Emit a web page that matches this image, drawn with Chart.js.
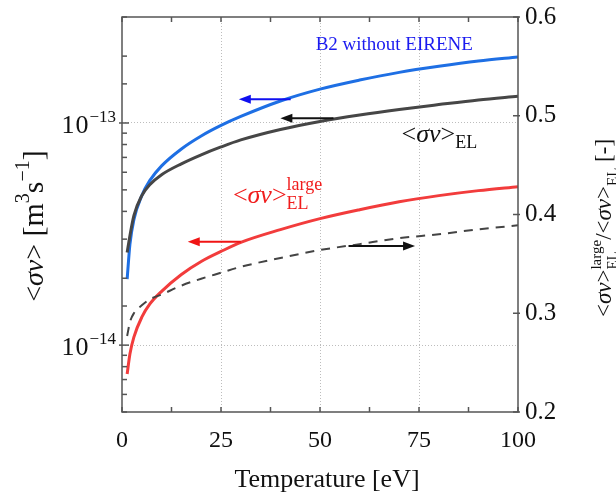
<!DOCTYPE html>
<html>
<head>
<meta charset="utf-8">
<script src="https://cdn.jsdelivr.net/npm/chart.js@4.4.0/dist/chart.umd.min.js"></script>
<style>
  html, body { margin: 0; padding: 0; background: #fff; }
  #wrap { width: 616px; height: 496px; }
</style>
</head>
<body>
<div id="wrap"><canvas id="chart" width="616" height="496"></canvas></div>
<script>
// Data
const temperature = [1.3, 2, 3, 5, 7, 10, 15, 20, 25, 30, 40, 50, 60, 70, 80, 90, 100];
const rateB2 = [1.98e-14, 2.84e-14, 3.67e-14, 4.71e-14, 5.5e-14, 6.41e-14, 7.64e-14, 8.74e-14, 9.75e-14, 1.07e-13, 1.256e-13, 1.42e-13, 1.56e-13, 1.69e-13, 1.8e-13, 1.9e-13, 1.98e-13];
const rateEL = [2.61e-14, 3.11e-14, 3.83e-14, 4.71e-14, 5.27e-14, 5.85e-14, 6.55e-14, 7.19e-14, 7.8e-14, 8.39e-14, 9.35e-14, 1.016e-13, 1.086e-13, 1.15e-13, 1.21e-13, 1.27e-13, 1.32e-13];
const rateLarge = [7.41e-15, 9.12e-15, 1.087e-14, 1.336e-14, 1.528e-14, 1.746e-14, 2.08e-14, 2.38e-14, 2.64e-14, 2.9e-14, 3.31e-14, 3.71e-14, 4.07e-14, 4.42e-14, 4.71e-14, 4.96e-14, 5.17e-14];
const ratio = [0.277, 0.291, 0.3, 0.308, 0.314, 0.319, 0.328, 0.335, 0.341, 0.347, 0.356, 0.364, 0.37, 0.376, 0.38, 0.385, 0.389];

// Axis ticks
const xTicks = [0, 12.5, 25, 37.5, 50, 62.5, 75, 87.5, 100];
const xLabelled = [0, 25, 50, 75, 100];
const xGrid = [25, 50, 75];
const ratioTicks = [0.2, 0.3, 0.4, 0.5, 0.6];
const decades = [1e-14, 1e-13];
const decadeLabels = ['\u221214', '\u221213'];

const FONT = '"Liberation Serif", "Times New Roman", serif';

const pts = ys => temperature.map((t, i) => ({ x: t, y: ys[i] }));
const isDecade = v => Math.abs(Math.log10(v) - Math.round(Math.log10(v))) < 1e-6;

// Annotation arrows (data units)
const arrows = [
    { x0: 42.6, x1: 29.5, y: 1.28e-13, axis: 'y', color: '#1010f0' },
    { x0: 53.4, x1: 40, y: 1.05e-13, axis: 'y', color: '#111' },
    { x0: 30, x1: 16.6, y: 2.92e-14, axis: 'y', color: '#f01414' },
    { x0: 57.2, x1: 74, y: 0.368, axis: 'y2', color: '#111' }
];

function font(p) {
    return (p.it ? 'italic ' : '') + p.s + 'px ' + FONT;
}
function partWidth(ctx, p) {
    ctx.font = font(p);
    if (p.stack) return Math.max(ctx.measureText(p.stack[0]).width, ctx.measureText(p.stack[1]).width);
    return ctx.measureText(p.t).width + (p.ls || 0) * p.t.length;
}
function richWidth(ctx, parts) {
    return parts.reduce((w, p) => w + partWidth(ctx, p), 0);
}
function drawRich(ctx, parts, x, y, color) {
    let cx = x;
    ctx.fillStyle = color;
    ctx.textAlign = 'left';
    ctx.textBaseline = 'alphabetic';
    parts.forEach(p => {
        const w = partWidth(ctx, p);
        ctx.font = font(p);
        if (p.stack) {
            ctx.fillText(p.stack[0], cx, y + p.up);
            ctx.fillText(p.stack[1], cx, y + p.dn);
        } else if (p.ls) {
            let lx = cx;
            for (const ch of p.t) {
                ctx.fillText(ch, lx, y + (p.dy || 0));
                lx += ctx.measureText(ch).width + p.ls;
            }
        } else {
            ctx.fillText(p.t, cx, y + (p.dy || 0));
        }
        cx += w;
    });
}

const sv = s => [{ t: '<', s }, { t: '\u03c3\u03bd', s, it: true }, { t: '>', s }];

const decor = {
    id: 'decor',
    afterDatasetsDraw(chart) {
        const { ctx, scales } = chart;
        ctx.save();
        ctx.lineWidth = 2;
        arrows.forEach(a => {
            const x0 = scales.x.getPixelForValue(a.x0);
            const x1 = scales.x.getPixelForValue(a.x1);
            const y = scales[a.axis].getPixelForValue(a.y);
            const dir = Math.sign(x1 - x0);
            ctx.strokeStyle = a.color;
            ctx.fillStyle = a.color;
            ctx.beginPath();
            ctx.moveTo(x0, y);
            ctx.lineTo(x1 - dir * 8, y);
            ctx.stroke();
            ctx.beginPath();
            ctx.moveTo(x1, y);
            ctx.lineTo(x1 - dir * 12, y - 4.5);
            ctx.lineTo(x1 - dir * 12, y + 4.5);
            ctx.closePath();
            ctx.fill();
        });

        // curve labels
        const x = scales.x, y = scales.y;
        ctx.font = font({ s: 19 });
        ctx.fillStyle = '#1a1aef';
        ctx.textBaseline = 'alphabetic';
        ctx.fillText('B2 without EIRENE', x.getPixelForValue(48.9), y.getPixelForValue(2.12e-13));
        drawRich(ctx, sv(26).concat([{ t: 'EL', s: 18, dy: 6 }]),
            x.getPixelForValue(70.6), y.getPixelForValue(8.2e-14), '#111');
        drawRich(ctx, sv(26).concat([{ stack: ['large', 'EL'], s: 18, up: -13, dn: 6 }]),
            x.getPixelForValue(28.0), y.getPixelForValue(4.37e-14), '#f01c1c');
        ctx.restore();
    },
    afterDraw(chart) {
        const { ctx, chartArea: a, scales } = chart;
        ctx.save();
        ctx.strokeStyle = '#555';
        ctx.lineWidth = 1.5;
        const line = (x0, y0, x1, y1) => { ctx.beginPath(); ctx.moveTo(x0, y0); ctx.lineTo(x1, y1); ctx.stroke(); };
        ctx.strokeRect(a.left, a.top, a.right - a.left, a.bottom - a.top);
        scales.x.ticks.forEach(t => {
            const px = scales.x.getPixelForValue(t.value);
            line(px, a.bottom, px, a.bottom - 5);
            line(px, a.top, px, a.top + 5);
        });
        scales.y.ticks.forEach(t => {
            const py = scales.y.getPixelForValue(t.value);
            const major = isDecade(t.value);
            line(a.left - (major ? 3 : 0), py, a.left + (major ? 7 : 5), py);
        });
        scales.y2.ticks.forEach(t => {
            const py = scales.y2.getPixelForValue(t.value);
            line(a.right - 5, py, a.right + 2, py);
        });

        // log axis labels 10^n
        decades.forEach((d, i) => {
            const py = scales.y.getPixelForValue(d);
            const base = { t: '10', s: 26, ls: 1 };
            const sup = { t: decadeLabels[i], s: 17, dy: -11 };
            const w = richWidth(ctx, [base, sup]);
            drawRich(ctx, [base, sup], a.left - 6 - w, py + 10, '#111');
        });

        // axis titles
        ctx.font = font({ s: 26 });
        ctx.fillStyle = '#111';
        ctx.textAlign = 'center';
        ctx.textBaseline = 'alphabetic';
        ctx.fillText('Temperature [eV]', 327, 487);

        const left = sv(28).concat([
            { t: ' [m', s: 30 }, { t: '3', s: 20, dy: -14 }, { t: 's', s: 30 },
            { t: '\u22121', s: 20, dy: -14 }, { t: ']', s: 30 }
        ]);
        ctx.save();
        ctx.translate(43, 226);
        ctx.rotate(-Math.PI / 2);
        drawRich(ctx, left, -richWidth(ctx, left) / 2, 0, '#111');
        ctx.restore();

        const right = sv(23).concat(
            [{ stack: ['large', 'EL'], s: 15, up: -10, dn: 6 }, { t: '/', s: 23 }],
            sv(23),
            [{ t: 'EL', s: 15, dy: 6 }, { t: ' [-]', s: 23 }]
        );
        ctx.save();
        ctx.translate(611, 228);
        ctx.rotate(-Math.PI / 2);
        drawRich(ctx, right, -richWidth(ctx, right) / 2, 0, '#111');
        ctx.restore();
        ctx.restore();
    }
};

const curve = (data, color, axis, extra) => Object.assign({
    data, borderColor: color, borderWidth: 3, pointRadius: 0,
    cubicInterpolationMode: 'monotone', yAxisID: axis, fill: false
}, extra || {});

// keep label overhang from pushing the plot frame around
const noPad = s => { s.paddingTop = 0; s.paddingBottom = 0; s.paddingLeft = 0; s.paddingRight = 0; };

new Chart(document.getElementById('chart'), {
    type: 'line',
    data: {
        datasets: [
            curve(pts(ratio), '#444', 'y2', { borderWidth: 2, borderDash: [9, 7] }),
            curve(pts(rateLarge), '#f23c3c', 'y'),
            curve(pts(rateEL), '#464646', 'y'),
            curve(pts(rateB2), '#1e6fe4', 'y')
        ]
    },
    plugins: [decor],
    options: {
        responsive: false,
        animation: false,
        events: [],
        layout: { padding: { top: 17, left: 0, right: 0, bottom: 0 } },
        plugins: { legend: { display: false }, tooltip: { enabled: false } },
        scales: {
            x: {
                type: 'linear', position: 'bottom', min: 0, max: 100,
                afterBuildTicks: s => { s.ticks = xTicks.map(v => ({ value: v })); },
                afterFit: s => { s.height = 84; noPad(s); },
                border: { display: false, dash: [1, 2] },
                grid: {
                    drawTicks: false,
                    lineWidth: 1,
                    color: c => (c.tick && xGrid.includes(c.tick.value)) ? '#bdbdbd' : 'rgba(0,0,0,0)'
                },
                ticks: {
                    padding: 14, color: '#111', maxRotation: 0, autoSkip: false,
                    font: { family: FONT, size: 24 },
                    callback: v => xLabelled.includes(v) ? String(v) : ''
                }
            },
            y: {
                type: 'logarithmic', position: 'left', min: 5e-15, max: 3e-13,
                afterFit: s => { s.width = 122; noPad(s); },
                border: { display: false, dash: [1, 2] },
                grid: {
                    drawTicks: false,
                    lineWidth: 1,
                    color: c => (c.tick && isDecade(c.tick.value)) ? '#bdbdbd' : 'rgba(0,0,0,0)'
                },
                ticks: { display: false }
            },
            y2: {
                type: 'linear', position: 'right', min: 0.2, max: 0.6,
                afterBuildTicks: s => { s.ticks = ratioTicks.map(v => ({ value: v })); },
                afterFit: s => { s.width = 98; noPad(s); },
                border: { display: false },
                grid: { drawOnChartArea: false, drawTicks: false },
                ticks: {
                    padding: 7, color: '#111',
                    font: { family: FONT, size: 25 },
                    callback: v => v.toFixed(1)
                }
            }
        }
    }
});
</script>
</body>
</html>
